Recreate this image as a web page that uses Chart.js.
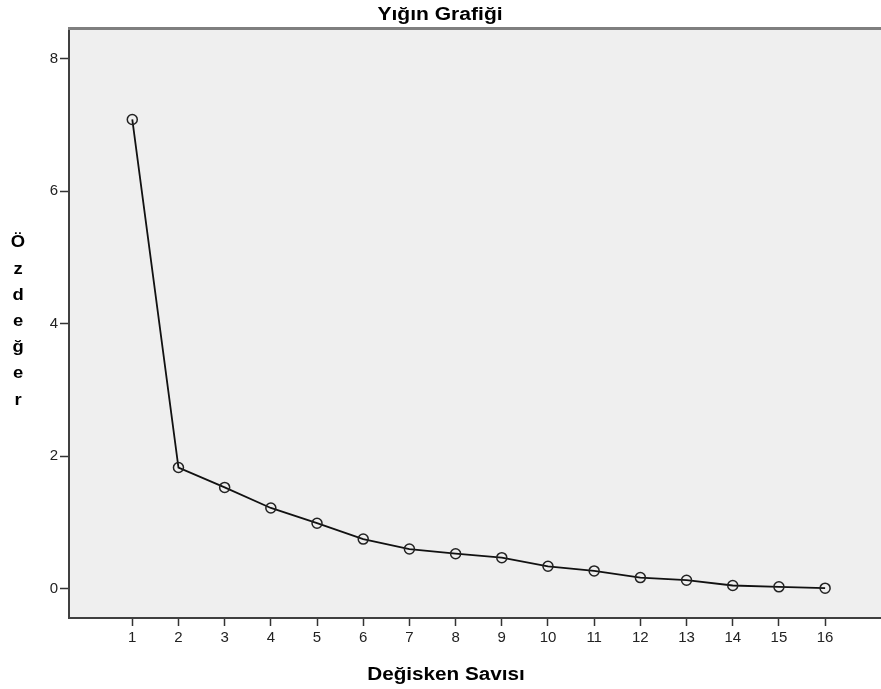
<!DOCTYPE html>
<html>
<head>
<meta charset="utf-8">
<script src="https://cdn.jsdelivr.net/npm/chart.js@4/dist/chart.umd.min.js"></script>
<style>
  html, body { margin: 0; padding: 0; background: #ffffff; }
  #wrap { position: relative; width: 881px; height: 689px; }
</style>
</head>
<body>
<div id="wrap"><canvas id="scree" width="881" height="689"></canvas></div>
<script>
// Scree plot: eigenvalue per component number
const componentNumbers = [1, 2, 3, 4, 5, 6, 7, 8, 9, 10, 11, 12, 13, 14, 15, 16];
const eigenvalues = [7.08, 1.83, 1.53, 1.22, 0.99, 0.75, 0.60, 0.53, 0.47, 0.34, 0.27, 0.17, 0.13, 0.05, 0.03, 0.01];
const yTickValues = [0, 2, 4, 6, 8];
const chartTitle = 'Yığın Grafiği';
const xAxisTitle = 'Değisken Savısı';
const yAxisTitle = 'Özdeğer';

const points = componentNumbers.map((c, i) => ({ x: c, y: eigenvalues[i] }));

// Draws stretched bold text centred at (x, y)
function stretchedText(ctx, text, x, y, size, sx) {
  ctx.save();
  ctx.font = 'bold ' + size + 'px "Liberation Sans", Arial, sans-serif';
  ctx.fillStyle = '#000000';
  ctx.textAlign = 'center';
  ctx.textBaseline = 'middle';
  ctx.translate(x, y);
  ctx.scale(sx, 1);
  ctx.fillText(text, 0, 0);
  ctx.restore();
}

const framePlugin = {
  id: 'frame',
  beforeDraw(chart) {
    const { ctx, chartArea: a } = chart;
    ctx.save();
    ctx.fillStyle = '#efefef';
    ctx.fillRect(a.left, a.top, a.right - a.left, a.bottom - a.top);
    ctx.restore();
  },
  afterDraw(chart) {
    const { ctx, chartArea: a } = chart;
    // top frame line
    ctx.save();
    ctx.strokeStyle = '#7f7f7f';
    ctx.lineWidth = 3;
    ctx.beginPath();
    ctx.moveTo(a.left - 1, a.top - 1.5);
    ctx.lineTo(a.right, a.top - 1.5);
    ctx.stroke();
    ctx.restore();
    // titles
    stretchedText(ctx, chartTitle, 440, 15, 18, 1.17);
    stretchedText(ctx, xAxisTitle, 446, 675, 18, 1.15);
    // vertical axis title, one letter per row
    const letters = Array.from(yAxisTitle);
    letters.forEach((ch, i) => {
      stretchedText(ctx, ch, 18, 243 + i * 26.2, 16, 1.15);
    });
  }
};

new Chart(document.getElementById('scree'), {
  type: 'line',
  data: {
    datasets: [{
      data: points,
      borderColor: '#111111',
      borderWidth: 1.8,
      pointRadius: 5,
      pointHoverRadius: 5,
      pointBorderWidth: 1.5,
      pointBorderColor: '#222222',
      pointBackgroundColor: 'rgba(0,0,0,0)',
      tension: 0,
      fill: false
    }]
  },
  options: {
    responsive: false,
    animation: false,
    devicePixelRatio: 1,
    layout: { autoPadding: false, padding: { top: 30, right: 0, bottom: 0, left: 0 } },
    plugins: {
      legend: { display: false },
      title: { display: false },
      tooltip: { enabled: false }
    },
    scales: {
      x: {
        type: 'linear',
        min: -0.37,
        max: 17.21,
        afterBuildTicks(scale) { scale.ticks = componentNumbers.map(v => ({ value: v })); },
        afterFit(scale) { scale.height = 71; },
        grid: { drawOnChartArea: false, drawTicks: true, tickLength: 8, tickColor: '#333333', tickWidth: 1.5 },
        border: { display: true, color: '#404040', width: 2 },
        ticks: {
          autoSkip: false,
          maxRotation: 0,
          padding: 3,
          color: '#222222',
          font: { family: '"Liberation Sans", Arial, sans-serif', size: 15 },
          callback: v => String(v)
        }
      },
      y: {
        type: 'linear',
        min: -0.44,
        max: 8.43,
        afterBuildTicks(scale) { scale.ticks = yTickValues.map(v => ({ value: v })); },
        afterFit(scale) { scale.width = 69; },
        grid: { drawOnChartArea: false, drawTicks: true, tickLength: 9, tickColor: '#333333', tickWidth: 1.5 },
        border: { display: true, color: '#404040', width: 2 },
        ticks: {
          padding: 2,
          color: '#222222',
          font: { family: '"Liberation Sans", Arial, sans-serif', size: 15 },
          callback: v => String(v)
        }
      }
    }
  },
  plugins: [framePlugin]
});
</script>
</body>
</html>
